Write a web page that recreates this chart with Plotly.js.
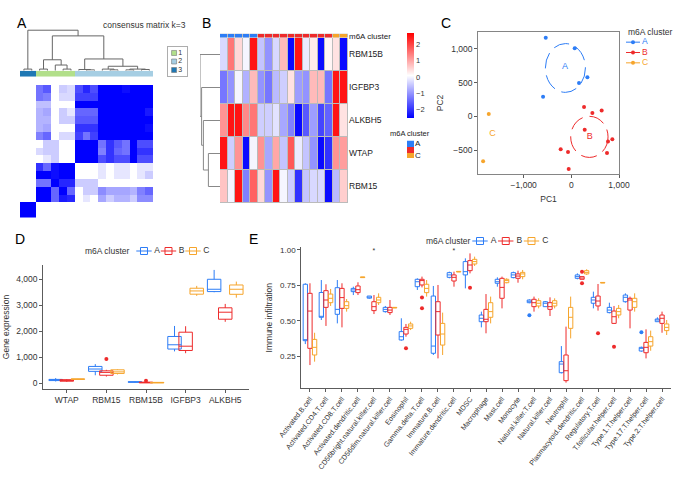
<!DOCTYPE html>
<html>
<head>
<meta charset="utf-8">
<script src="https://cdn.plot.ly/plotly-3.0.1.min.js"></script>
<style>
  html, body { margin: 0; padding: 0; background: #fff; }
  #chart { width: 678px; height: 503px; }
</style>
</head>
<body>
<div id="chart"></div>
<script>
// ============== data ==============
const clusterNames = ['A', 'B', 'C'];
const clusterColors = ['#2D7DF6', '#EE2B2B', '#F6A52C'];

// --- A: consensus matrix k=3 (rows top -> bottom, columns left -> right)
const consensusGroupNames = ['1', '2', '3'];
const consensusGroupColors = ['#B2DF8A', '#A6CEE3', '#1F78B4'];
const consensusGroups = [3, 3, 1, 1, 1, 1, 1, 2, 2, 2, 2, 2, 2, 2, 2, 2, 2];
const consensusMatrix = [
    [0, 0, .55, .65, 0, .2, .15, .7, .85, .7, 1, 1, 1, .95, 1, 1, 1],
    [0, 0, .55, .5, 0, .15, .15, .75, .75, .75, 1, 1, 1, 1, 1, 1, 1],
    [0, 0, .25, .25, 0, 0, 0, 1, 1, 1, 1, 1, 1, 1, 1, 1, 1],
    [0, 0, .3, .35, 0, .2, .1, .6, .6, .6, 1, 1, 1, 1, 1, 1, .9],
    [0, 0, .3, .3, 0, .2, .2, .65, .65, .65, 1, 1, 1, 1, 1, 1, 1],
    [0, 0, .3, .35, 0, 0, 0, .8, .8, .8, 1, 1, 1, 1, 1, 1, .95],
    [0, 0, .5, .6, 0, .15, .15, .75, .55, .75, 1, 1, 1, 1, 1, 1, 1],
    [0, 0, 0, .2, .2, 0, 0, 1, 1, 1, .55, .8, .65, .55, 1, .7, .7],
    [0, 0, .15, .2, .2, 0, 0, 1, 1, 1, .5, .8, .6, .55, 1, .8, .8],
    [0, 0, 0, .1, .2, 0, 0, 1, 1, 1, .7, .8, .7, .7, 1, .7, .7],
    [0, 0, .8, .6, .95, 1, 1, 0, 0, 0, .1, 0, .1, .1, 0, .1, .1],
    [0, 0, 1, 1, .95, 1, 1, 0, 0, 0, .1, 0, .1, .1, 0, .1, .2],
    [0, 0, .55, .55, 1, .85, .85, .2, .2, .2, 0, 0, 0, 0, 0, 0, 0],
    [0, 0, 1, 1, .6, 1, .6, 0, .2, .2, .45, .35, .35, .35, .3, .5, .6],
    [0, 0, 1, 1, .6, .9, .85, 0, .1, 0, .35, .2, .3, .3, .2, .45, .45],
    [1, 1, 0, 0, 0, 0, 0, 0, 0, 0, 0, 0, 0, 0, 0, 0, 0],
    [1, 1, 0, 0, 0, 0, 0, 0, 0, 0, 0, 0, 0, 0, 0, 0, 0]
];
// column dendrogram: leaves are column numbers, h = merge height (root = 1)
const consensusTree = {h: 1, c: [
    {h: .04, c: [0, 1]},
    {h: .86, c: [
        {h: .27, c: [{h: .04, c: [2, 3]}, {h: .14, c: [4, {h: .04, c: [5, 6]}]}]},
        {h: .29, c: [
            {h: .03, c: [7, {h: .02, c: [8, 9]}]},
            {h: .11, c: [
                {h: .04, c: [10, {h: .02, c: [11, 12]}]},
                {h: .04, c: [{h: .02, c: [13, 14]}, {h: .03, c: [15, 16]}]}
            ]}
        ]}
    ]}
]};

// --- B: m6A gene heatmap
const geneNames = ['RBM15B', 'IGFBP3', 'ALKBH5', 'WTAP', 'RBM15'];
const sampleCluster = [0, 0, 0, 0, 0, 1, 1, 1, 1, 1, 1, 1, 1, 1, 1, 2, 2];
const geneZ = [
    [-0.3, 1.5, 0.5, 0, 2.5, -0.5, -1.0, -0.3, 0.8, -2.4, 2.5, -0.1, 0.3, -2.4, 0.2, 0.4, -2.4],
    [-1.3, -1.0, 0, -0.7, 0.8, -1.0, -1.3, -0.6, -0.4, 0.4, -0.9, -1.0, 0.8, 0.8, -1.3, 2.5, 2.5],
    [1.2, 2.5, 2.5, 1.3, 1.5, -0.4, -0.4, -0.2, -0.8, -1.2, -2.4, -1.6, -0.9, -1.8, -1.5, 2.5, 0.4],
    [2.5, -0.4, 1.2, -2.4, 0, 1.2, -0.8, 1.0, -0.5, 1.8, -0.1, -0.5, -1.0, -2.4, -2.0, 1.2, 1.1],
    [0.7, 0, 2.5, -1.2, 1.7, 0.5, -1.0, 2.5, 0, -0.4, -2.0, -0.5, -0.3, -0.3, -2.4, -0.6, 0.6]
];
const geneTree = {h: 1, c: [0, {h: .92, c: [1, {h: .83, c: [2, {h: .58, c: [3, 4]}]}]}]};

// --- C: PCA
const pcX = [
    [-538, 70, 336, 161, -594],
    [266, 441, 636, 280, 769, 860, -224, -70, 748, -56],
    [-1734, -1853]
];
const pcY = [
    [1165, 1010, 580, 495, 290],
    [140, 50, 85, -200, -375, -340, -490, -530, -545, -780],
    [35, -665]
];
const ellipseCx = [-125, 378];
const ellipseCy = [718, -305];
const ellipseRx = [420, 392];
const ellipseRy = [362, 305];
const labelX = [-133, 385, -1657];
const labelY = [735, -300, -265];

// --- D: gene expression boxes, each [lower, q1, median, q3, upper]
const dGenes = ['WTAP', 'RBM15', 'RBM15B', 'IGFBP3', 'ALKBH5'];
const dStatsA = [[60, 95, 120, 140, 190], [300, 450, 540, 640, 730], [20, 30, 40, 50, 60], [1220, 1310, 1475, 1795, 2200], [3500, 3525, 3615, 4000, 4360]];
const dStatsB = [[40, 70, 100, 130, 150], [250, 300, 410, 470, 510], [0, 5, 20, 35, 50], [1150, 1255, 1420, 1960, 2190], [2360, 2460, 2730, 2900, 3050]];
const dStatsC = [[135, 140, 150, 160, 165], [330, 370, 430, 510, 530], [0, 5, 15, 25, 30], [3360, 3425, 3550, 3655, 3745], [3290, 3420, 3615, 3780, 3910]];
const dOutliersB = [[1, 925], [2, 90]];
const dSigIdx = [4];
const dSigText = ['**'];

// --- E: immune infiltration boxes
const cellTypes = ['Activated.B.cell', 'Activated.CD4.T.cell', 'Activated.CD8.T.cell', 'Activated.dendritic.cell',
    'CD56bright.natural.killer.cell', 'CD56dim.natural.killer.cell', 'Eosinophil', 'Gamma.delta.T.cell',
    'Immature.B.cell', 'Immature.dendritic.cell', 'MDSC', 'Macrophage', 'Mast.cell', 'Monocyte',
    'Natural.killer.T.cell', 'Natural.killer.cell', 'Neutrophil', 'Plasmacytoid.dendritic.cell',
    'Regulatory.T.cell', 'T.follicular.helper.cell', 'Type.1.T.helper.cell', 'Type.17.T.helper.cell', 'Type.2.T.helper.cell'];
const eStatsA = [
    [.336, .36, .365, .758, .765], [.506, .525, .53, .70, .788], [.482, .546, .581, .734, .788], [.682, .706, .718, .729, .741],
    [.656, .66, .666, .675, .675], [.558, .565, .581, .595, .605], [.36, .365, .388, .424, .518], [.718, .741, .776, .793, .80],
    [.259, .271, .322, .675, .746], [.80, .807, .824, .84, .847], [.729, .824, .847, .918, .941], [.454, .494, .518, .541, .565],
    [.741, .765, .776, .793, .807], [.80, .805, .824, .84, .847], [.624, .628, .638, .647, .652], [.60, .60, .624, .635, .64],
    [.129, .134, .195, .212, .322], [.793, .80, .812, .824, .835], [.588, .624, .647, .666, .706], [.553, .558, .576, .595, .628],
    [.628, .635, .666, .682, .694], [.282, .287, .306, .313, .318], [.494, .494, .506, .513, .525]
];
const eStatsB = [
    [.188, .306, .569, .694, .765], [.464, .595, .647, .713, .758], [.454, .588, .664, .729, .765], [.682, .699, .72, .746, .772],
    [.548, .572, .60, .635, .682], [.541, .558, .576, .595, .647], [.388, .407, .44, .454, .478], [.736, .753, .784, .793, .812],
    [.235, .40, .565, .635, .753], [.741, .781, .807, .824, .847], [.835, .854, .894, .925, .976], [.412, .494, .511, .581, .689],
    [.588, .659, .736, .80, .812], [.769, .80, .816, .831, .854], [.565, .60, .628, .652, .671], [.534, .581, .60, .628, .666],
    [.064, .078, .148, .259, .459], [.793, .793, .802, .812, .812], [.572, .605, .64, .675, .76], [.478, .482, .529, .569, .605],
    [.447, .576, .647, .659, .671], [.235, .275, .313, .348, .44], [.416, .482, .518, .541, .565]
];
const eStatsC = [
    [.212, .259, .313, .369, .416], [.605, .628, .659, .689, .725], [.565, .588, .607, .635, .654], [.805, .805, .807, .81, .81],
    [.612, .628, .647, .666, .694], [.591, .591, .593, .595, .595], [.435, .447, .464, .478, .494], [.671, .699, .729, .758, .788],
    [.259, .329, .407, .482, .558], [.845, .845, .847, .849, .849], [.887, .901, .918, .934, .953], [.482, .525, .565, .628, .671],
    [.765, .769, .784, .793, .80], [.793, .812, .831, .842, .859], [.588, .605, .624, .642, .659], [.588, .605, .624, .642, .659],
    [.376, .447, .525, .595, .671], [.824, .831, .842, .854, .864], [.767, .767, .769, .771, .771], [.518, .541, .565, .588, .612],
    [.565, .595, .635, .659, .694], [.289, .322, .353, .388, .431], [.40, .431, .454, .478, .506]
];
const eOutliersA = [[14, .539], [21, .419]];
const eOutliersB = [[6, .306], [7, .664], [7, .588], [10, .734], [17, .847], [17, .765], [18, .412], [19, .318]];
const eSigIdx = [4, 9];
const eSigText = ['*', '*'];

// ============== layout helpers ==============
const W = 678, H = 503;
const FONT = 'Liberation Sans, Arial, sans-serif';
const INK = '#333333';
const spanX = (a, b) => [a / W, b / W];
const spanY = (top, bottom) => [1 - bottom / H, 1 - top / H];

// walk a dendrogram: returns U-shaped segments, leaves at h=0
const dendroLines = (tree) => {
    const pos = [], hgt = [];
    const walk = (node) => {
        if (typeof node === 'number') return {p: node, h: 0};
        const a = walk(node.c[0]);
        const b = walk(node.c[1]);
        pos.push(a.p, a.p, b.p, b.p, null);
        hgt.push(a.h, node.h, node.h, b.h, null);
        return {p: (a.p + b.p) / 2, h: node.h};
    };
    walk(tree);
    return {pos, hgt};
};

const clusterScale = [[0, clusterColors[0]], [0.5, clusterColors[1]], [1, clusterColors[2]]];
const traces = [];
const quiet = {showlegend: false, hoverinfo: 'skip'};

// ============== A ==============
const dA = dendroLines(consensusTree);
traces.push({type: 'scatter', mode: 'lines', x: dA.pos, y: dA.hgt, xaxis: 'x', yaxis: 'y',
    line: {color: '#666', width: 1}, ...quiet});
traces.push({type: 'heatmap', z: [consensusGroups], xaxis: 'x2', yaxis: 'y2', zmin: 1, zmax: 3,
    colorscale: [[0, consensusGroupColors[0]], [0.5, consensusGroupColors[1]], [1, consensusGroupColors[2]]],
    showscale: false, ...quiet});
traces.push({type: 'heatmap', z: consensusMatrix, xaxis: 'x3', yaxis: 'y3', zmin: 0, zmax: 1,
    colorscale: [[0, '#FFFFFF'], [1, '#0000FF']], showscale: false, ...quiet});
traces.push({type: 'scatter', mode: 'markers+text', xaxis: 'x4', yaxis: 'y4',
    x: consensusGroupNames.map(() => 0), y: consensusGroupNames.map((g, i) => i + 1),
    text: consensusGroupNames, textposition: 'middle right', textfont: {size: 7, color: INK},
    marker: {symbol: 'square', size: 5, color: consensusGroupColors, line: {color: '#777', width: 0.6}},
    ...quiet});

// ============== B ==============
const dB = dendroLines(geneTree);
traces.push({type: 'scatter', mode: 'lines', x: dB.hgt, y: dB.pos, xaxis: 'x5', yaxis: 'y5',
    line: {color: '#888', width: 1}, ...quiet});
traces.push({type: 'heatmap', z: [sampleCluster], y: ['m6A cluster'], xaxis: 'x6', yaxis: 'y6',
    zmin: 0, zmax: 2, colorscale: clusterScale, xgap: 1, showscale: false, ...quiet});
traces.push({type: 'heatmap', z: geneZ, y: geneNames, xaxis: 'x7', yaxis: 'y7', xgap: 1, ygap: 1,
    zmin: -2.5, zmax: 2.7, colorscale: [[0, '#0000FF'], [0.5, '#FFFFFF'], [1, '#FF0000']],
    colorbar: {x: 407 / W, xanchor: 'left', y: 1 - 33 / H, yanchor: 'top', len: 85, lenmode: 'pixels',
        thickness: 7, outlinewidth: 0, xpad: 0, ypad: 0, tickvals: [-2, -1, 0, 1, 2], ticks: '',
        tickfont: {size: 7.5, color: INK}},
    ...quiet});
traces.push({type: 'heatmap', z: clusterNames.map((c, i) => [i]), y: clusterNames, xaxis: 'x8', yaxis: 'y8',
    zmin: 0, zmax: 2, colorscale: clusterScale, showscale: false, ...quiet});

// ============== C ==============
clusterNames.forEach((name, k) => {
    traces.push({type: 'scatter', mode: 'markers', x: pcX[k], y: pcY[k], xaxis: 'x9', yaxis: 'y9',
        marker: {color: clusterColors[k], size: 4}, ...quiet});
});
traces.push({type: 'scatter', mode: 'text', x: labelX, y: labelY, text: clusterNames, xaxis: 'x9', yaxis: 'y9',
    textfont: {size: 9, color: clusterColors}, ...quiet});

// ============== D & E boxes ==============
const boxTrace = (stats, k, xa, ya, offset, width) => ({
    type: 'box', xaxis: xa, yaxis: ya,
    x: stats.map((s, i) => i + offset),
    lowerfence: stats.map(s => s[0]), q1: stats.map(s => s[1]), median: stats.map(s => s[2]),
    q3: stats.map(s => s[3]), upperfence: stats.map(s => s[4]),
    width: width, whiskerwidth: 0, boxpoints: false,
    line: {color: clusterColors[k], width: 1}, fillcolor: 'rgba(255,255,255,0)',
    name: clusterNames[k], ...quiet
});
const outlierTrace = (pts, k, xa, ya, offset) => ({
    type: 'scatter', mode: 'markers', xaxis: xa, yaxis: ya,
    x: pts.map(p => p[0] + offset), y: pts.map(p => p[1]),
    marker: {color: clusterColors[k], size: 4}, ...quiet
});

const dOffsets = [-0.28, 0, 0.28];
[dStatsA, dStatsB, dStatsC].forEach((st, k) => traces.push(boxTrace(st, k, 'x10', 'y10', dOffsets[k], 0.34)));
traces.push(outlierTrace(dOutliersB, 1, 'x10', 'y10', dOffsets[1]));

const eOffsets = [-0.29, 0, 0.29];
[eStatsA, eStatsB, eStatsC].forEach((st, k) => traces.push(boxTrace(st, k, 'x11', 'y11', eOffsets[k], 0.27)));
traces.push(outlierTrace(eOutliersA, 0, 'x11', 'y11', eOffsets[0]));
traces.push(outlierTrace(eOutliersB, 1, 'x11', 'y11', eOffsets[1]));
traces.push({type: 'scatter', mode: 'text', x: eSigIdx, y: eSigIdx.map(() => 0.99), text: eSigText,
    xaxis: 'x11', yaxis: 'y11', textfont: {size: 7, color: INK}, cliponaxis: false, ...quiet});

// ============== legend keys (small axes of their own) ==============
const keyIdx = clusterNames.map((c, i) => i);
// C: line + dot keys, stacked
traces.push({type: 'scatter', mode: 'markers', x: keyIdx.map(() => 0), y: keyIdx, xaxis: 'x12', yaxis: 'y12',
    marker: {symbol: 'line-ew-open', size: 10, color: clusterColors, line: {color: clusterColors, width: 1}}, ...quiet});
traces.push({type: 'scatter', mode: 'markers', x: keyIdx.map(() => 0), y: keyIdx, xaxis: 'x12', yaxis: 'y12',
    marker: {size: 4, color: clusterColors}, ...quiet});
traces.push({type: 'scatter', mode: 'text', x: keyIdx.map(() => 9), y: keyIdx, text: clusterNames,
    textposition: 'middle right', xaxis: 'x12', yaxis: 'y12',
    textfont: {size: 8.5, color: clusterColors}, ...quiet});
// D and E: box keys in a row
[['x13', 'y13'], ['x14', 'y14']].forEach(([xa, ya]) => {
    traces.push({type: 'scatter', mode: 'markers', x: keyIdx, y: keyIdx.map(() => 0), xaxis: xa, yaxis: ya,
        marker: {symbol: 'line-ew-open', size: 11, color: clusterColors, line: {color: clusterColors, width: 1}}, ...quiet});
    traces.push({type: 'scatter', mode: 'markers', x: keyIdx, y: keyIdx.map(() => 0), xaxis: xa, yaxis: ya,
        marker: {symbol: 'square-open', size: 7, color: clusterColors, line: {color: clusterColors, width: 1}}, ...quiet});
    traces.push({type: 'scatter', mode: 'text', x: keyIdx.map(i => i + 0.42), y: keyIdx.map(() => 0),
        text: clusterNames, textposition: 'middle right', xaxis: xa, yaxis: ya,
        textfont: {size: 8.5, color: INK}, ...quiet});
});

// ============== axes ==============
const hidden = (domain, range, anchor) => ({domain, range, anchor, visible: false, fixedrange: true});
const labelAxis = (domain, anchor, extra) => Object.assign({
    domain, anchor, side: 'right', showline: false, showgrid: false, zeroline: false, ticks: '',
    tickfont: {size: 8.5, color: '#222'}, fixedrange: true
}, extra || {});
const ggAxis = (domain, range, anchor, extra) => Object.assign({
    domain, range, anchor, showline: true, linecolor: INK, linewidth: 0.8, ticks: 'outside', ticklen: 3,
    tickcolor: INK, tickwidth: 0.8, showgrid: false, zeroline: false, fixedrange: true,
    tickfont: {size: 8.5, color: INK}
}, extra || {});

const colRange = [-0.5, 16.5];
const layout = {
    width: W, height: H,
    margin: {l: 0, r: 0, t: 0, b: 0},
    paper_bgcolor: '#fff', plot_bgcolor: '#fff',
    font: {family: FONT, size: 8.5, color: INK},
    boxmode: 'overlay',
    showlegend: false,

    xaxis: hidden(spanX(20, 153.3), colRange, 'y'),
    yaxis: hidden(spanY(29, 70.7), [0, 1.03], 'x'),
    xaxis2: hidden(spanX(20, 153.3), colRange, 'y2'),
    yaxis2: hidden(spanY(70.7, 76.7), [-0.5, 0.5], 'x2'),
    xaxis3: hidden(spanX(20, 153.3), colRange, 'y3'),
    yaxis3: hidden(spanY(85, 217.5), [16.5, -0.5], 'x3'),
    xaxis4: {domain: spanX(168, 187.5), range: [-0.5, 1.1], anchor: 'y4', showline: true, mirror: true,
        linecolor: '#999', linewidth: 0.8, showticklabels: false, ticks: '', showgrid: false, zeroline: false},
    yaxis4: {domain: spanY(47, 76), range: [3.7, 0.3], anchor: 'x4', showline: true, mirror: true,
        linecolor: '#999', linewidth: 0.8, showticklabels: false, ticks: '', showgrid: false, zeroline: false},

    xaxis5: hidden(spanX(200, 220), [1, 0], 'y5'),
    yaxis5: hidden(spanY(38, 203), [4.5, -0.5], 'x5'),
    xaxis6: hidden(spanX(220, 348), colRange, 'y6'),
    yaxis6: labelAxis(spanY(33.8, 37.6), 'x6', {tickfont: {size: 8, color: '#222'}}),
    xaxis7: hidden(spanX(220, 348), colRange, 'y7'),
    yaxis7: labelAxis(spanY(38, 203), 'x7', {autorange: 'reversed'}),
    xaxis8: hidden(spanX(407, 414), [-0.5, 0.5], 'y8'),
    yaxis8: labelAxis(spanY(140.5, 158), 'x8', {autorange: 'reversed', tickfont: {size: 8, color: '#222'}}),

    xaxis9: ggAxis(spanX(478, 619), [-1960, 1000], 'y9', {mirror: true, linecolor: '#666',
        tickvals: [-1000, 0, 1000], tickformat: ',', title: {text: 'PC1', font: {size: 8.5}, standoff: 6}}),
    yaxis9: ggAxis(spanY(32, 174), [-856, 1252], 'x9', {mirror: true, linecolor: '#666',
        tickvals: [-500, 0, 500, 1000], tickformat: ',', title: {text: 'PC2', font: {size: 8.5}, standoff: 6}}),

    xaxis10: ggAxis(spanX(43, 249), [-0.6, 4.6], 'y10', {tickvals: dGenes.map((g, i) => i), ticktext: dGenes}),
    yaxis10: ggAxis(spanY(265, 389), [-230, 4550], 'x10', {tickvals: [0, 1000, 2000, 3000, 4000],
        tickformat: ',', title: {text: 'Gene expression', font: {size: 8.5}, standoff: 5}}),

    xaxis11: ggAxis(spanX(301, 671), [-0.56, 22.56], 'y11', {tickvals: cellTypes.map((c, i) => i),
        ticktext: cellTypes, tickangle: -52, tickfont: {size: 7.2, color: INK}}),
    yaxis11: ggAxis(spanY(247, 388.3), [0.024, 1.021], 'x11', {tickvals: [0.25, 0.5, 0.75, 1.0],
        tickformat: '.2f', tickfont: {size: 8, color: INK},
        title: {text: 'Immune infiltration', font: {size: 8.5}, standoff: 5}}),

    // legend key areas
    xaxis12: hidden(spanX(626, 660), [-7, 27], 'y12'),
    yaxis12: hidden(spanY(37, 68), [2.5, -0.5], 'x12'),
    xaxis13: hidden(spanX(130, 215), [-0.571, 2.898], 'y13'),
    yaxis13: hidden(spanY(246, 256), [-1, 1], 'x13'),
    xaxis14: hidden(spanX(465, 555), [-0.583, 2.913], 'y14'),
    yaxis14: hidden(spanY(236, 246), [-1, 1], 'x14'),

    shapes: [
        // grey cell borders behind the expression heatmap and its annotation row
        {type: 'rect', xref: 'x7 domain', yref: 'y7 domain', x0: 0, x1: 1, y0: 0, y1: 1,
            fillcolor: '#BBBBBB', line: {width: 0}, layer: 'below'},
        {type: 'rect', xref: 'x6 domain', yref: 'y6 domain', x0: 0, x1: 1, y0: 0, y1: 1,
            fillcolor: '#BBBBBB', line: {width: 0}, layer: 'below'}
    ].concat(ellipseCx.map((cx, k) => ({
        type: 'circle', xref: 'x9', yref: 'y9',
        x0: cx - ellipseRx[k], x1: cx + ellipseRx[k],
        y0: ellipseCy[k] - ellipseRy[k], y1: ellipseCy[k] + ellipseRy[k],
        line: {color: clusterColors[k], width: 1, dash: '16px,7px'}
    }))),

    annotations: [
        {text: 'consensus matrix k=3', x: 101 / W, y: 1 - 18 / H, xref: 'paper', yref: 'paper',
            showarrow: false, font: {size: 8.5, color: INK}},
        {text: 'm6A cluster', x: 388 / W, y: 1 - 127 / H, xref: 'paper', yref: 'paper', xanchor: 'left',
            showarrow: false, font: {size: 7.5, color: '#222'}},
        {text: 'm6A cluster', x: 626 / W, y: 1 - 25 / H, xref: 'paper', yref: 'paper', xanchor: 'left',
            showarrow: false, font: {size: 8.5, color: INK}},
        {text: 'm6A cluster', x: 83 / W, y: 1 - 251 / H, xref: 'paper', yref: 'paper', xanchor: 'left',
            showarrow: false, font: {size: 8.5, color: INK}},
        {text: 'm6A cluster', x: 424 / W, y: 1 - 241 / H, xref: 'paper', yref: 'paper', xanchor: 'left',
            showarrow: false, font: {size: 8.5, color: INK}}
    ].concat(dSigIdx.map((g, i) => ({
        text: dSigText[i], x: g, y: 4615, xref: 'x10', yref: 'y10', showarrow: false,
        font: {size: 7, color: INK}
    }))).concat([['A', 15, 13], ['B', 200, 13], ['C', 446, 13], ['D', 13, 239], ['E', 253, 239]].map(p => ({
        text: p[0], x: p[1] / W, y: 1 - p[2] / H, xref: 'paper', yref: 'paper', showarrow: false,
        font: {size: 14, color: '#000'}
    })))
};

Plotly.newPlot('chart', traces, layout, {staticPlot: true, displayModeBar: false});
</script>
</body>
</html>
